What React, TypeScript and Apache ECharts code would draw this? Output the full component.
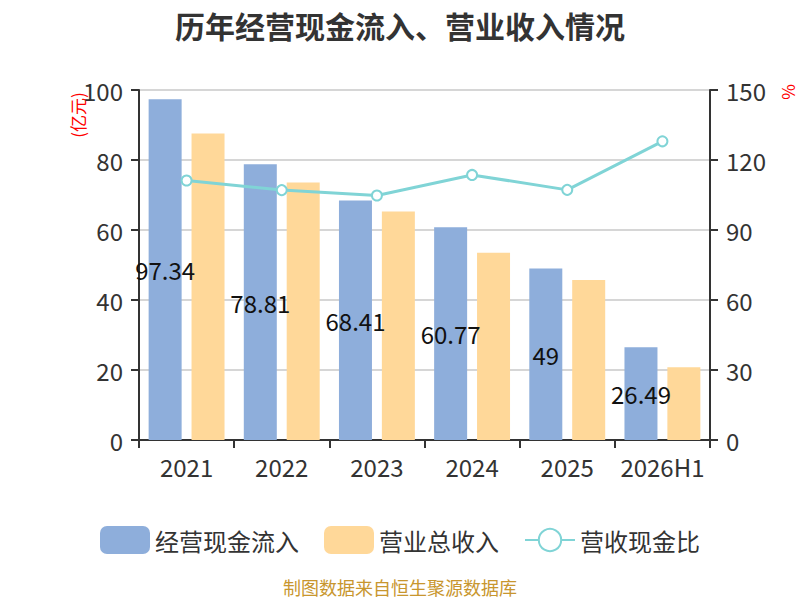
import React, { useEffect, useRef } from "react";
import * as echarts from "echarts";

const categories = ["2021", "2022", "2023", "2024", "2025", "2026H1"];
const cashInflow = [97.342, 78.81, 68.414, 60.775, 49, 26.499];
const revenue = [87.6, 73.6, 65.3, 53.5, 45.7, 20.77];
const ratio = [111.2, 107.1, 104.8, 113.6, 107.2, 128.0];
const leftTicks = { min: 0, max: 100, interval: 20 };
const rightTicks = { min: 0, max: 150, interval: 30 };

const FONT = "'Noto Sans CJK SC', 'Noto Sans', sans-serif";

export default function App() {
  const ref = useRef<HTMLDivElement>(null);
  useEffect(() => {
    if (!ref.current) return;
    const chart = echarts.init(ref.current, undefined, { renderer: "svg" });
    const axisLine = { show: true, lineStyle: { color: "#333", width: 2 } };
    chart.setOption({
      animation: false,
      backgroundColor: "#fff",
      textStyle: { fontFamily: FONT },
      title: {
        text: "历年经营现金流入、营业收入情况",
        left: "center",
        top: 5,
        textStyle: { fontSize: 30, fontWeight: "bold", color: "#333", fontFamily: FONT },
      },
      grid: { left: 139, right: 90, top: 90, bottom: 160 },
      legend: {
        top: 521,
        left: "center",
        itemWidth: 50,
        itemHeight: 28,
        itemGap: 25,
        textStyle: { fontSize: 24, color: "#333", fontFamily: FONT },
        data: [
          { name: "经营现金流入", icon: "roundRect" },
          { name: "营业总收入", icon: "roundRect" },
          { name: "营收现金比" },
        ],
      },
      xAxis: {
        type: "category",
        data: categories,
        axisLine,
        axisTick: { show: true, length: 8, interval: 0, lineStyle: { color: "#333", width: 2 } },
        axisLabel: { fontSize: 24, color: "#333", margin: 14, interval: 0, fontFamily: FONT },
      },
      yAxis: [
        {
          type: "value",
          ...leftTicks,
          axisLine,
          axisTick: { show: true, length: 8, lineStyle: { color: "#333", width: 2 } },
          axisLabel: { fontSize: 24, color: "#333", margin: 16, fontFamily: FONT },
          splitLine: { show: true, lineStyle: { color: "#c8c8c8", width: 1.5 } },
        },
        {
          type: "value",
          ...rightTicks,
          position: "right",
          axisLine,
          axisTick: { show: true, length: 8, lineStyle: { color: "#333", width: 2 } },
          axisLabel: { fontSize: 24, color: "#333", margin: 16, fontFamily: FONT },
          splitLine: { show: false },
        },
      ],
      graphic: [
        {
          type: "text",
          x: 77,
          y: 115,
          rotation: Math.PI / 2,
          style: {
            text: "(亿元)",
            fill: "#ff0000",
            fontSize: 17,
            fontFamily: FONT,
            align: "center",
            verticalAlign: "middle",
          },
        },
        {
          type: "text",
          x: 787,
          y: 92,
          rotation: Math.PI / 2,
          style: {
            text: "%",
            fill: "#ff0000",
            fontSize: 17,
            fontFamily: FONT,
            align: "center",
            verticalAlign: "middle",
          },
        },
        {
          type: "text",
          x: 400,
          y: 587,
          style: {
            text: "制图数据来自恒生聚源数据库",
            fill: "#c8962e",
            fontSize: 18,
            fontFamily: FONT,
            align: "center",
            verticalAlign: "middle",
          },
        },
      ],
      series: [
        {
          name: "经营现金流入",
          type: "bar",
          data: cashInflow,
          barWidth: 33,
          barGap: "30%",
          itemStyle: { color: "#8eaedb" },
          label: {
            show: true,
            position: "inside",
            color: "#111",
            fontSize: 24,
            fontFamily: FONT,
            width: 65,
            overflow: "truncate",
            ellipsis: "",
          },
        },
        {
          name: "营业总收入",
          type: "bar",
          data: revenue,
          barWidth: 33,
          barGap: "30%",
          itemStyle: { color: "#ffd899" },
        },
        {
          name: "营收现金比",
          type: "line",
          yAxisIndex: 1,
          data: ratio,
          symbol: "emptyCircle",
          symbolSize: 10,
          lineStyle: { color: "#80d4d6", width: 3 },
          itemStyle: { color: "#80d4d6", borderWidth: 2 },
          z: 5,
        },
      ],
    });
    return () => chart.dispose();
  }, []);
  return (
    <div
      ref={ref}
      style={{ position: "fixed", left: 0, top: 0, width: 800, height: 600 }}
    />
  );
}
